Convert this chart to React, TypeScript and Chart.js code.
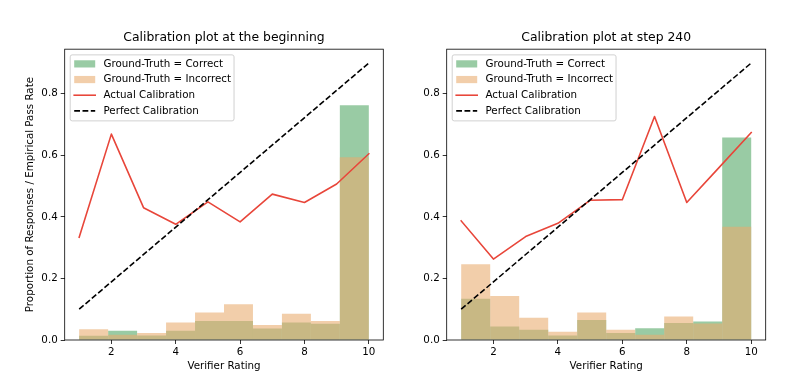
import React, { useEffect, useRef } from 'react';
import { Chart, registerables } from 'chart.js';

Chart.register(...registerables);

// ---- data ----
const binEdges = [1, 1.9, 2.8, 3.7, 4.6, 5.5, 6.4, 7.3, 8.2, 9.1, 10];
const ratings = [1, 2, 3, 4, 5, 6, 7, 8, 9, 10];
const perfectX = [1, 10];
const perfectY = [0.1, 0.9];
const xTicks = [2, 4, 6, 8, 10];
const yTicks = [0, 0.2, 0.4, 0.6, 0.8];

const beginCorrect = [0.014, 0.03, 0.015, 0.03, 0.062, 0.062, 0.037, 0.057, 0.053, 0.763];
const beginIncorrect = [0.035, 0.017, 0.023, 0.057, 0.089, 0.116, 0.049, 0.085, 0.062, 0.594];
const beginActual = [0.334, 0.669, 0.43, 0.376, 0.449, 0.384, 0.474, 0.447, 0.507, 0.605];

const stepCorrect = [0.134, 0.044, 0.033, 0.015, 0.065, 0.023, 0.038, 0.055, 0.06, 0.658];
const stepIncorrect = [0.246, 0.143, 0.072, 0.027, 0.089, 0.033, 0.017, 0.076, 0.054, 0.368];
const stepActual = [0.387, 0.263, 0.336, 0.379, 0.454, 0.456, 0.726, 0.447, 0.56, 0.674];

const labels = ['Ground-Truth = Correct', 'Ground-Truth = Incorrect', 'Actual Calibration', 'Perfect Calibration'];

// ---- styles ----
const FAMILY = "'DejaVu Sans', sans-serif";
const GREEN = 'rgba(85,168,104,0.6)';
const ORANGE = 'rgba(233,171,110,0.59)';
const RED = '#e8463a';
const TEXT = '#000';

const legendFrame = {
  id: 'mplFrame',
  afterDatasetsDraw(chart: any) {
    const { ctx, chartArea: a } = chart;
    ctx.save();
    // spines
    ctx.strokeStyle = '#000';
    ctx.lineWidth = 0.8;
    ctx.strokeRect(a.left, a.top, a.right - a.left, a.bottom - a.top);

    // legend
    const fs = 10.3;
    ctx.font = `${fs}px ${FAMILY}`;
    const ds = chart.data.datasets;
    let maxW = 0;
    ds.forEach((d: any) => { maxW = Math.max(maxW, ctx.measureText(d.label).width); });
    const bx = a.left + 5.5;
    const by = a.top + 5.7;
    const handleX = bx + 4;
    const handleW = 21;
    const textX = bx + 33.3;
    const bw = textX - bx + maxW + 3;
    const rowStart = 9;
    const rowGap = 15.67;
    const bh = 66;
    ctx.beginPath();
    (ctx as any).roundRect(bx, by, bw, bh, 2);
    ctx.fillStyle = 'rgba(255,255,255,0.8)';
    ctx.fill();
    ctx.strokeStyle = '#cccccc';
    ctx.lineWidth = 0.9;
    ctx.stroke();

    ds.forEach((d: any, i: number) => {
      const cy = by + rowStart + i * rowGap;
      if (d.type === 'line') {
        ctx.beginPath();
        ctx.strokeStyle = d.borderColor;
        ctx.lineWidth = d.borderWidth;
        ctx.setLineDash(d.borderDash || []);
        ctx.lineCap = d.borderDash ? 'butt' : 'square';
        ctx.moveTo(handleX, cy);
        ctx.lineTo(handleX + handleW, cy);
        ctx.stroke();
        ctx.setLineDash([]);
      } else {
        ctx.fillStyle = d.backgroundColor;
        ctx.fillRect(handleX, cy - 3.6, handleW, 7.2);
      }
      ctx.fillStyle = TEXT;
      ctx.textBaseline = 'middle';
      ctx.textAlign = 'left';
      ctx.fillText(d.label, textX, cy);
    });
    ctx.restore();
  },
};

function makeConfig(title: string, correct: number[], incorrect: number[], actual: number[], yWidth: number, rightPad: number, showYTitle: boolean): any {
  const centers = binEdges.slice(0, -1).map((e, i) => (e + binEdges[i + 1]) / 2);
  const tickFont = { family: FAMILY, size: 10.3 };
  return {
    type: 'bar',
    data: {
      datasets: [
        {
          type: 'bar', label: labels[0], data: centers.map((x, i) => ({ x, y: correct[i] })),
          backgroundColor: GREEN, borderWidth: 0, grouped: false, barPercentage: 1, categoryPercentage: 1, inflateAmount: 0, order: 4,
        },
        {
          type: 'bar', label: labels[1], data: centers.map((x, i) => ({ x, y: incorrect[i] })),
          backgroundColor: ORANGE, borderWidth: 0, grouped: false, barPercentage: 1, categoryPercentage: 1, inflateAmount: 0, order: 3,
        },
        {
          type: 'line', label: labels[2], data: ratings.map((x, i) => ({ x, y: actual[i] })),
          borderColor: RED, borderWidth: 1.6, pointRadius: 0, fill: false, tension: 0, borderJoinStyle: 'round', borderCapStyle: 'square', order: 2,
        },
        {
          type: 'line', label: labels[3], data: perfectX.map((x, i) => ({ x, y: perfectY[i] })),
          borderColor: '#000', borderWidth: 1.6, borderDash: [5.8, 2.5], pointRadius: 0, fill: false, tension: 0, borderCapStyle: 'butt', order: 1,
        },
      ],
    },
    options: {
      responsive: false,
      animation: false,
      devicePixelRatio: 1,
      layout: { padding: { left: 0, top: 0, right: rightPad, bottom: 0 } },
      plugins: {
        legend: { display: false },
        tooltip: { enabled: false },
        title: {
          display: true, text: title, fullSize: false, color: TEXT,
          font: { family: FAMILY, size: 12.4, weight: 'normal', lineHeight: 1.2 },
          padding: { top: 30.3, bottom: 4 },
        },
      },
      scales: {
        x: {
          type: 'linear', min: 0.55, max: 10.45, offset: false,
          afterBuildTicks: (s: any) => { s.ticks = xTicks.map((v) => ({ value: v })); },
          afterFit: (s: any) => { s.height = 49; },
          grid: { display: true, offset: false, drawOnChartArea: false, drawTicks: true, tickLength: 4, color: '#000', lineWidth: 0.8 },
          border: { display: false },
          ticks: { padding: 2, color: TEXT, font: tickFont, maxRotation: 0, autoSkip: false, callback: (v: any) => String(v) },
          title: { display: true, text: 'Verifier Rating', color: TEXT, font: tickFont, padding: { top: 0, bottom: 16.5 } },
        },
        y: {
          type: 'linear', min: 0, max: 0.945, offset: false,
          afterBuildTicks: (s: any) => { s.ticks = yTicks.map((v) => ({ value: v })); },
          afterFit: (s: any) => { s.width = yWidth; },
          grid: { display: true, drawOnChartArea: false, drawTicks: true, tickLength: 4, color: '#000', lineWidth: 0.8 },
          border: { display: false },
          ticks: { padding: 3, color: TEXT, font: tickFont, autoSkip: false, callback: (v: any) => Number(v).toFixed(1) },
          title: {
            display: showYTitle, text: 'Proportion of Responses / Empirical Pass Rate', color: TEXT, font: tickFont,
            padding: { top: 23.8, bottom: 0 },
          },
        },
      },
    },
    plugins: [legendFrame],
  };
}

export default function App() {
  const leftRef = useRef<HTMLCanvasElement>(null);
  const rightRef = useRef<HTMLCanvasElement>(null);
  useEffect(() => {
    const c1 = new Chart(leftRef.current!, makeConfig('Calibration plot at the beginning', beginCorrect, beginIncorrect, beginActual, 64.7, 16.7, true));
    const c2 = new Chart(rightRef.current!, makeConfig('Calibration plot at step 240', stepCorrect, stepIncorrect, stepActual, 46.7, 27.3, false));
    return () => { c1.destroy(); c2.destroy(); };
  }, []);
  return (
    <div style={{ position: 'absolute', left: 0, top: 0, width: 793, height: 389, background: '#fff' }}>
      <canvas ref={leftRef} width={400} height={389} style={{ position: 'absolute', left: 0, top: 0, width: 400, height: 389 }} />
      <canvas ref={rightRef} width={393} height={389} style={{ position: 'absolute', left: 400, top: 0, width: 393, height: 389 }} />
    </div>
  );
}
